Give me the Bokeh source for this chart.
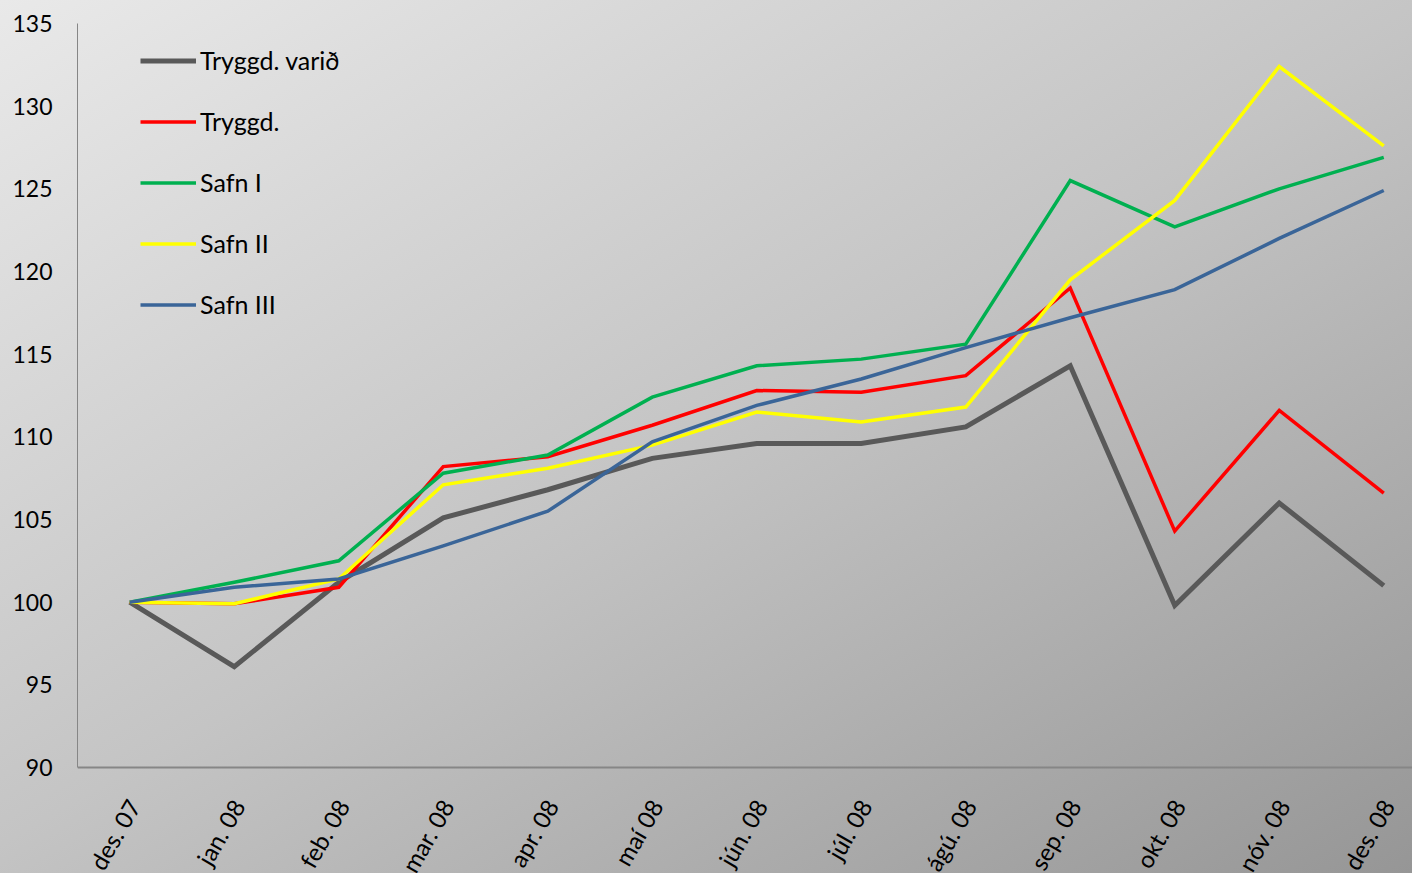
import math
from bokeh.plotting import figure
from bokeh.models import FixedTicker, Legend, LegendItem, ColumnDataSource, Span
from bokeh.core.properties import value
from bokeh.embed import file_html
from bokeh.resources import INLINE

months = ["des. 07", "jan. 08", "feb. 08", "mar. 08", "apr. 08", "maí 08", "jún. 08",
          "júl. 08", "ágú. 08", "sep. 08", "okt. 08", "nóv. 08", "des. 08"]
tryggd_varid = [100, 96.1, 101.2, 105.1, 106.8, 108.7, 109.6, 109.6, 110.6, 114.3, 99.8, 106.0, 101.0]
tryggd = [100, 99.9, 100.9, 108.2, 108.8, 110.7, 112.8, 112.7, 113.7, 119.0, 104.3, 111.6, 106.6]
safn_1 = [100, 101.2, 102.5, 107.8, 108.9, 112.4, 114.3, 114.7, 115.6, 125.5, 122.7, 125.0, 126.9]
safn_2 = [100, 99.9, 101.4, 107.1, 108.1, 109.5, 111.5, 110.9, 111.8, 119.5, 124.3, 132.4, 127.6]
safn_3 = [100, 100.9, 101.4, 103.4, 105.5, 109.7, 111.9, 113.5, 115.4, 117.2, 118.9, 122.0, 124.9]
y_ticks = [90, 95, 100, 105, 110, 115, 120, 125, 130, 135]

series = [
    ("Tryggd. varið", tryggd_varid, "#595959", 5),
    ("Tryggd.", tryggd, "#ff0000", 3.5),
    ("Safn I", safn_1, "#00b050", 3.5),
    ("Safn II", safn_2, "#ffff00", 3.5),
    ("Safn III", safn_3, "#3a6598", 3.5),
]

FONT = "Lato"
W, H = 1412, 873
TOP, LEFT, AXIS_Y = 23, 77, 767          # pixel layout of the plot area
xs = list(range(len(months)))

y_min, y_max = y_ticks[0], y_ticks[-1]
px_per_unit = (AXIS_Y - TOP) / (y_max - y_min)
y_start = y_min - (H - AXIS_Y) / px_per_unit   # frame runs to the bottom so labels can sit below the axis
x_start = -0.5
x_end = x_start + (W - LEFT) / 104.5

p = figure(width=W, height=H, output_backend="svg", toolbar_location=None,
           x_range=(x_start, x_end), y_range=(y_start, y_max),
           min_border_left=LEFT, min_border_right=0, min_border_top=TOP, min_border_bottom=0)
p.styles = {"background": "linear-gradient(150deg, #e9e9e9 0%, #c4c4c4 50%, #969696 100%)"}
p.background_fill_color = None
p.border_fill_color = None
p.outline_line_color = None
p.xgrid.visible = False
p.ygrid.visible = False
p.xaxis.visible = False

# horizontal category axis line at the bottom value
p.add_layout(Span(location=y_min, dimension="width", line_color="#868686", line_width=2))

items = []
for name, vals, color, lw in series:
    src = ColumnDataSource(dict(x=xs, y=vals))
    r = p.line("x", "y", source=src, line_color=color, line_width=lw, line_join="miter")
    items.append(LegendItem(label=name, renderers=[r]))

# rotated category labels below the axis line
lab_src = ColumnDataSource(dict(x=xs, y=[y_min] * len(xs), text=months))
p.text("x", "y", text="text", source=lab_src, x_offset=4, y_offset=34,
       angle=math.pi / 3, text_align="right", text_baseline="middle",
       text_font=value(FONT), text_font_size=value("24px"), text_color="#000000")

p.yaxis.ticker = FixedTicker(ticks=y_ticks)
p.yaxis.bounds = (y_min, y_max)
p.yaxis.axis_line_color = "#868686"
p.yaxis.axis_line_width = 1
p.yaxis.major_tick_line_color = None
p.yaxis.minor_tick_line_color = None
p.yaxis.major_label_standoff = 19
p.yaxis.major_label_text_font = FONT
p.yaxis.major_label_text_font_size = "23px"
p.yaxis.major_label_text_color = "#000000"

legend = Legend(items=items, location=(63, 448 + (H - AXIS_Y)), orientation="vertical",
                background_fill_alpha=0, border_line_color=None,
                padding=0, margin=0, spacing=31,
                glyph_width=56, glyph_height=25, label_height=25,
                label_standoff=4,
                label_text_font=FONT, label_text_font_size="25px",
                label_text_color="#000000")
p.add_layout(legend)

open("out.html", "w").write(file_html(p, INLINE))
